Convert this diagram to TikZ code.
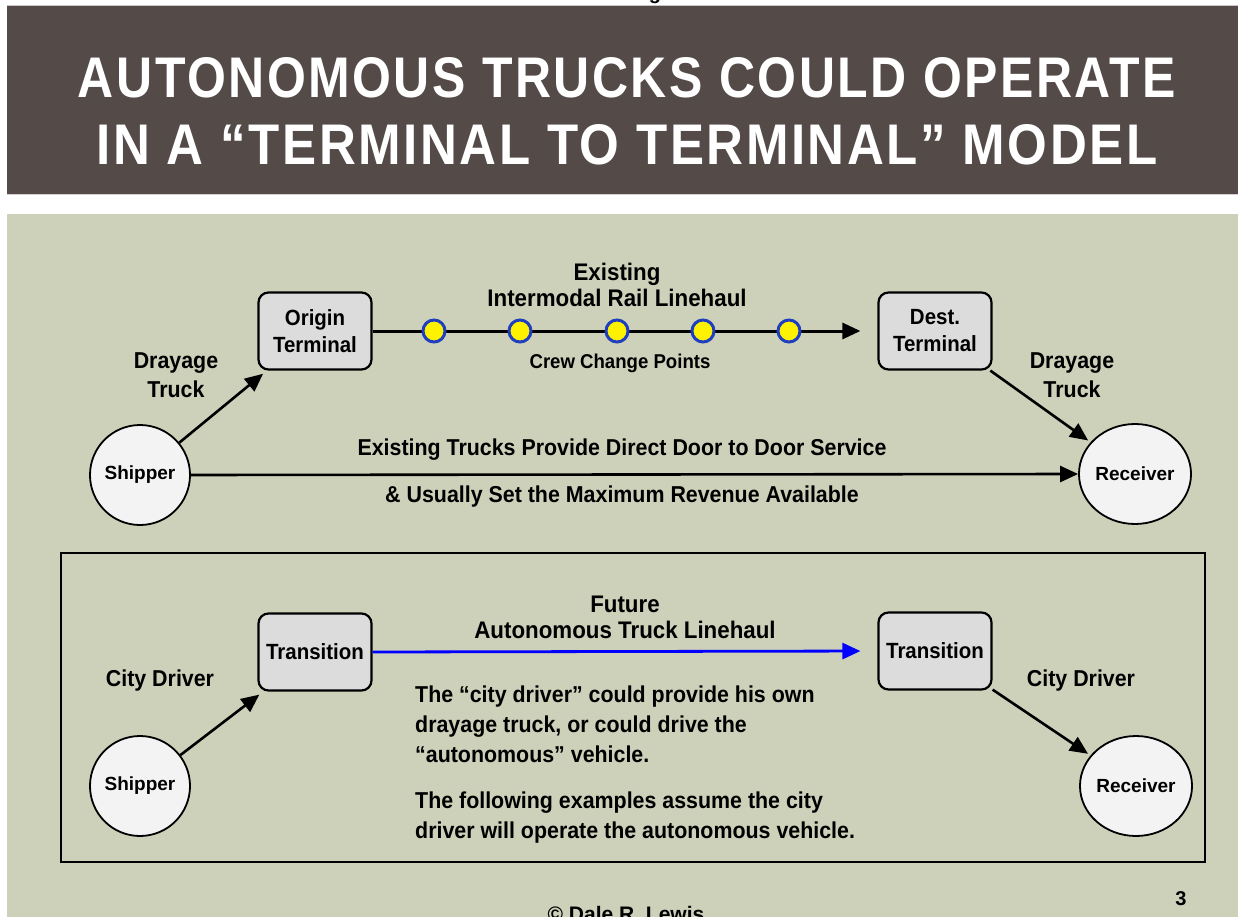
\documentclass[tikz,border=0pt]{standalone}
\usepackage{fontspec}
\usepackage{graphicx}
\setmainfont{Liberation Sans}[FakeStretch=0.93]
\newfontfamily\plainfont{Liberation Sans}
\newfontfamily\titlefont{Liberation Sans}[LetterSpace=5]
\usetikzlibrary{arrows.meta,shapes.geometric}
\definecolor{hdr}{HTML}{544B49}
\definecolor{panel}{HTML}{CDD1BA}
\definecolor{boxgray}{HTML}{DCDCDC}
\definecolor{circfill}{HTML}{F3F3F3}
\definecolor{ringblue}{HTML}{1F3FBF}
\definecolor{lineblue}{HTML}{0000FF}
\tikzset{
  term/.style={draw, line width=2.2pt, rounded corners=10pt, fill=boxgray,
    minimum width=113pt, minimum height=77pt, align=center, inner sep=0pt,
    font=\bfseries\fontsize{22}{27}\selectfont},
  endpt/.style={draw, ellipse, line width=1.8pt, fill=circfill,
    minimum width=97pt, minimum height=100pt, inner sep=0pt,
    font=\plainfont\bfseries\fontsize{19}{22}\selectfont},
  crewdot/.style={circle, draw=ringblue, fill=yellow, line width=3pt,
    minimum size=22pt, inner sep=0pt},
  lbl/.style={font=\bfseries\fontsize{23}{29}\selectfont, align=center, inner sep=0pt},
  head/.style={font=\bfseries\fontsize{24}{26}\selectfont, align=center, inner sep=0pt},
  para/.style={font=\bfseries\fontsize{23}{30}\selectfont, align=left, inner sep=0pt, anchor=north west},
  arr/.style={line width=2.6pt, -{Triangle[length=18pt,width=16pt]}},
  bluearr/.style={line width=2.8pt, draw=lineblue, -{Triangle[length=18pt,width=16pt]}, lineblue},
}
\begin{document}
\begin{tikzpicture}[x=1pt,y=-1pt]
\useasboundingbox (0,0) rectangle (1242,917);
\fill[white] (0,0) rectangle (1242,917);
% fragment of text above
\node[anchor=base, inner sep=0pt, font=\plainfont\bfseries\fontsize{20}{20}\selectfont] (frag) at (655,0) {g};
% header band
\fill[hdr] (7,6) rectangle (1238,195);
\draw[gray!45, line width=1pt] (7,6) -- (1238,6);
\draw[gray!35, line width=1pt] (7,195) -- (1238,195);
\node[text=white, inner sep=0pt] (t1) at (627,78)
  {\resizebox{1098pt}{40pt}{\titlefont\bfseries AUTONOMOUS TRUCKS COULD OPERATE}};
\node[text=white, inner sep=0pt] (t2) at (627,145)
  {\resizebox{1060pt}{40pt}{\titlefont\bfseries IN A “TERMINAL TO TERMINAL” MODEL}};
% panel
\fill[panel] (7,214) rectangle (1238,917);

% ---------- top section ----------
\node[endpt] (s1) at (140,475) {Shipper};
\node[endpt] (r1) at (1135,474) {Receiver};
\node[term] (o1) at (315,331) {Origin\\Terminal};
\node[term] (dt) at (935,331) {Dest.\\Terminal};
\draw[arr, line width=3pt, shorten >=17pt] (o1.east) -- (dt.west);
\node[crewdot] (d1) at (434,331) {};
\node[crewdot] (d2) at (520,331) {};
\node[crewdot] (d3) at (617,331) {};
\node[crewdot] (d4) at (703,331) {};
\node[crewdot] (d5) at (789,331) {};
\node[head] (hd1) at (617,285) {Existing\\Intermodal Rail Linehaul};
\node[inner sep=0pt, font=\bfseries\fontsize{20}{22}\selectfont] (crew) at (620,363) {Crew Change Points};
\node[lbl] (dl) at (176,375) {Drayage\\Truck};
\node[lbl] (dr) at (1072,375) {Drayage\\Truck};
\draw[arr, shorten >=5pt] (s1) -- (o1);
\draw[arr, shorten >=3pt] (dt) -- (r1);
\draw[arr] (s1.east) -- (r1.west);
\node[lbl] (ex1) at (622,450) {Existing Trucks Provide Direct Door to Door Service};
\node[lbl] (ex2) at (622,497) {\&\ Usually Set the Maximum Revenue Available};

% ---------- bottom section ----------
\draw[line width=2pt] (61,553) rectangle (1205,862);
\node[endpt] (s2) at (140,786) {Shipper};
\node[endpt] (r2) at (1136,786) {Receiver};
\node[term] (tr1) at (315,652) {Transition};
\node[term] (tr2) at (935,651) {Transition};
\draw[bluearr, shorten >=17pt] (tr1.east) -- (tr2.west);
\node[head] (hd2) at (625,617) {Future\\Autonomous Truck Linehaul};
\node[lbl] (cl) at (160,681) {City Driver};
\node[lbl] (cr) at (1081,681) {City Driver};
\draw[arr, shorten >=5pt] (s2) -- (tr1);
\draw[arr, shorten >=3pt] (tr2) -- (r2);
\node[para] (p1) at (415,685.5) {The “city driver” could provide his own\\drayage truck, or could drive the\\“autonomous” vehicle.};
\node[para] (p2) at (415,791.5) {The following examples assume the city\\driver will operate the autonomous vehicle.};

% footer
\node[inner sep=0pt, font=\plainfont\bfseries\fontsize{20}{22}\selectfont] (pg) at (1181,899) {3};
\node[anchor=base, inner sep=0pt, font=\plainfont\bfseries\fontsize{21}{22}\selectfont] (cp) at (626,921) {© Dale R. Lewis};
\end{tikzpicture}
\end{document}
